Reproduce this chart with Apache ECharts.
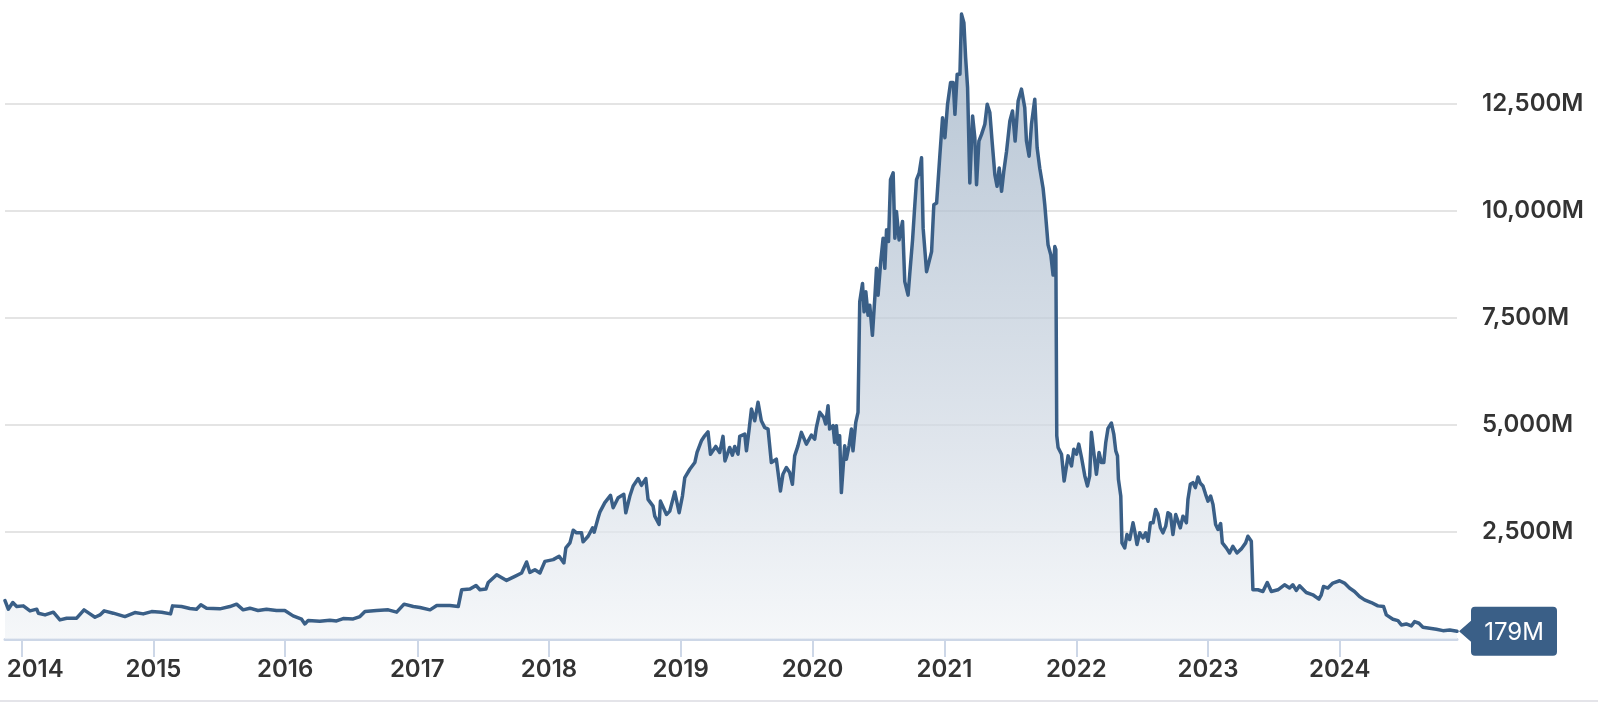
<!DOCTYPE html>
<html>
<head>
<meta charset="utf-8">
<script src="https://cdn.jsdelivr.net/npm/echarts@6/dist/echarts.min.js"></script>
<style>
html,body{margin:0;padding:0;background:#ffffff;}
#chart{width:1598px;height:702px;}
</style>
</head>
<body>
<div id="chart"></div>
<script>
// Dates as decimal years
const dates = [
  2013.873, 2013.898, 2013.932, 2013.962,
  2014.012, 2014.063, 2014.114, 2014.126, 2014.177, 2014.240, 2014.290, 2014.341, 2014.417, 2014.473, 2014.518, 2014.556, 2014.594, 2014.626, 2014.695, 2014.783, 2014.859, 2014.922, 2014.986,
  2015.062, 2015.130, 2015.145, 2015.213, 2015.276, 2015.327, 2015.360, 2015.403, 2015.504, 2015.580, 2015.631, 2015.681, 2015.732, 2015.794, 2015.858, 2015.934, 2015.997,
  2016.060, 2016.124, 2016.149, 2016.174, 2016.262, 2016.338, 2016.389, 2016.439, 2016.515, 2016.566, 2016.604, 2016.692, 2016.780, 2016.844, 2016.900, 2016.970,
  2017.021, 2017.097, 2017.148, 2017.248, 2017.311, 2017.337, 2017.400, 2017.446, 2017.476, 2017.521, 2017.539, 2017.603, 2017.678, 2017.741, 2017.792, 2017.830, 2017.855, 2017.893, 2017.931, 2017.969,
  2018.032, 2018.077, 2018.113, 2018.128, 2018.159, 2018.184, 2018.209, 2018.247, 2018.259, 2018.297, 2018.331, 2018.343, 2018.373, 2018.386, 2018.424, 2018.467, 2018.487, 2018.525, 2018.568, 2018.583, 2018.614, 2018.639, 2018.677, 2018.702, 2018.735, 2018.752, 2018.790, 2018.803, 2018.836, 2018.846, 2018.892, 2018.917, 2018.955, 2018.988,
  2019.013, 2019.031, 2019.069, 2019.107, 2019.124, 2019.157, 2019.182, 2019.207, 2019.226, 2019.266, 2019.296, 2019.321, 2019.336, 2019.372, 2019.392, 2019.410, 2019.435, 2019.448, 2019.486, 2019.499, 2019.518, 2019.537, 2019.562, 2019.587, 2019.612, 2019.637, 2019.663, 2019.688, 2019.726, 2019.757, 2019.776, 2019.802, 2019.827, 2019.848, 2019.865, 2019.890, 2019.916, 2019.954, 2019.992,
  2020.017, 2020.030, 2020.055, 2020.085, 2020.100, 2020.118, 2020.130, 2020.156, 2020.168, 2020.181, 2020.193, 2020.206, 2020.219, 2020.244, 2020.257, 2020.277, 2020.295, 2020.307, 2020.328, 2020.345, 2020.358, 2020.379, 2020.391, 2020.404, 2020.421, 2020.434, 2020.454, 2020.472, 2020.485, 2020.497, 2020.517, 2020.535, 2020.548, 2020.561, 2020.576, 2020.591, 2020.611, 2020.624, 2020.636, 2020.656, 2020.682, 2020.699, 2020.724, 2020.737, 2020.758, 2020.775, 2020.788, 2020.808, 2020.826, 2020.838, 2020.864, 2020.902, 2020.919, 2020.940, 2020.965, 2020.985,
  2021.003, 2021.023, 2021.046, 2021.066, 2021.079, 2021.096, 2021.117, 2021.129, 2021.147, 2021.160, 2021.175, 2021.192, 2021.213, 2021.230, 2021.243, 2021.261, 2021.281, 2021.306, 2021.324, 2021.344, 2021.361, 2021.382, 2021.399, 2021.415, 2021.433, 2021.450, 2021.471, 2021.496, 2021.516, 2021.536, 2021.559, 2021.584, 2021.609, 2021.622, 2021.642, 2021.660, 2021.685, 2021.703, 2021.723, 2021.748, 2021.761, 2021.786, 2021.807, 2021.824, 2021.837, 2021.845, 2021.852, 2021.862, 2021.888, 2021.908, 2021.938, 2021.964, 2021.981,
  2022.002, 2022.019, 2022.040, 2022.065, 2022.085, 2022.102, 2022.115, 2022.133, 2022.153, 2022.173, 2022.191, 2022.209, 2022.224, 2022.241, 2022.267, 2022.285, 2022.300, 2022.313, 2022.320, 2022.338, 2022.347, 2022.368, 2022.385, 2022.406, 2022.431, 2022.444, 2022.461, 2022.482, 2022.507, 2022.527, 2022.545, 2022.563, 2022.583, 2022.603, 2022.620, 2022.639, 2022.658, 2022.679, 2022.696, 2022.715, 2022.734, 2022.755, 2022.772, 2022.790, 2022.810, 2022.836, 2022.848, 2022.866, 2022.886, 2022.904, 2022.924, 2022.942, 2022.962, 2022.982,
  2023.000, 2023.020, 2023.038, 2023.058, 2023.076, 2023.096, 2023.109, 2023.139, 2023.164, 2023.189, 2023.220, 2023.253, 2023.286, 2023.303, 2023.329, 2023.341, 2023.379, 2023.417, 2023.450, 2023.481, 2023.531, 2023.581, 2023.619, 2023.644, 2023.670, 2023.695, 2023.746, 2023.796, 2023.842, 2023.860, 2023.877, 2023.910, 2023.948, 2023.999,
  2024.036, 2024.074, 2024.112, 2024.150, 2024.188, 2024.239, 2024.289, 2024.332, 2024.353, 2024.403, 2024.441, 2024.467, 2024.504, 2024.542, 2024.567, 2024.600, 2024.630, 2024.681, 2024.732, 2024.782, 2024.833, 2024.888
];

// Values in millions
const values = [
  899, 697, 852, 758,
  774, 657, 697, 603, 563, 627, 446, 486, 486, 681, 587, 509, 563, 657, 603, 524, 618, 587, 641,
  627, 587, 774, 758, 711, 697, 798, 720, 704, 758, 814, 681, 720, 665, 697, 665, 665,
  540, 462, 352, 430, 415, 439, 423, 477, 469, 524, 641, 665, 681, 627, 814, 758,
  735, 681, 782, 782, 758, 1150, 1166, 1251, 1150, 1166, 1321, 1502, 1368, 1462, 1542, 1800, 1556, 1619, 1542, 1814,
  1854, 1932, 1777, 2129, 2246, 2542, 2481, 2481, 2270, 2401, 2598, 2495, 2833, 2964, 3185, 3356, 3067, 3302, 3380, 2950, 3340, 3575, 3748, 3591, 3748, 3262, 3105, 2870, 2676, 3222, 2910, 2988, 3434, 2950,
  3340, 3772, 3966, 4123, 4358, 4631, 4748, 4842, 4318, 4499, 4358, 4734, 4161, 4476, 4295, 4499, 4318, 4734, 4788, 4396, 4866, 5375, 5100, 5532, 5100, 4945, 4905, 4123, 4201, 3457, 3849, 4006, 3889, 3614, 4279, 4513, 4828, 4553, 4764,
  4670, 4945, 5297, 5180, 5023, 5452, 4905, 4983, 4593, 4983, 4553, 4748, 3420, 4513, 4201, 4513, 4905, 4396, 5062, 5297, 7879, 8308, 7644, 8113, 7565, 7800, 7095, 7956, 8660, 8034, 8816, 9365, 8660, 9559, 9287, 10733, 10890, 9365, 9991, 9325, 9757, 8348, 8034, 8543, 9325, 10140, 10733, 10890, 11242, 9599, 8583, 9052, 10146, 10186, 11320, 12181,
  11712, 12494, 13002, 13002, 12259, 13197, 13197, 14600, 14400, 13589, 12885, 10655, 12220, 11712, 10616, 11634, 11790, 12025, 12494, 12299, 11634, 10851, 10577, 11007, 10459, 10929, 11398, 12103, 12338, 11634, 12573, 12847, 12416, 11634, 11281, 12025, 12612, 11477, 11000, 10538, 10146, 9209, 8973, 8504, 9169, 9100, 4748, 4476, 4318, 3692, 4279, 4044, 4436,
  4318, 4553, 4241, 3810, 3575, 3810, 4828, 4358, 3849, 4358, 4123, 4123, 4593, 4921, 5046, 4788, 4396, 4279, 3732, 3340, 2246, 2129, 2441, 2324, 2715, 2518, 2206, 2481, 2363, 2481, 2284, 2715, 2715, 3028, 2910, 2598, 2481, 2636, 2950, 2910, 2441, 2910, 2753, 2598, 2870, 2715, 3262, 3614, 3654, 3537, 3786, 3638, 3575, 3380,
  3222, 3340, 3145, 2676, 2558, 2699, 2246, 2129, 2011, 2166, 2011, 2105, 2246, 2401, 2284, 1150, 1150, 1110, 1321, 1110, 1150, 1267, 1190, 1267, 1134, 1244, 1087, 1033, 932, 1033, 1228, 1190, 1307, 1361,
  1307, 1190, 1110, 993, 915, 852, 774, 758, 563, 462, 430, 329, 352, 305, 406, 368, 275, 251, 228, 195, 211, 179
];

const yearTicks = [2014, 2015, 2016, 2017, 2018, 2019, 2020, 2021, 2022, 2023, 2024];
const yMin = 0, yMax = 15000, yStep = 2500;

function yearToTime(y) {
  const Y = Math.floor(y);
  const a = Date.UTC(Y, 0, 1), b = Date.UTC(Y + 1, 0, 1);
  return a + (y - Y) * (b - a);
}

const seriesData = dates.map((d, i) => [yearToTime(d), values[i]]);
const tickTimes = yearTicks.map(y => Date.UTC(y, 0, 1));
const last = seriesData[seriesData.length - 1];

const FONT = 'Inter, "Noto Sans", "DejaVu Sans", sans-serif';
const LINE = '#3a5f87';

const chart = echarts.init(document.getElementById('chart'), null, {renderer: 'canvas'});
chart.setOption({
  animation: false,
  backgroundColor: '#ffffff',
  grid: {left: 5, right: 141, top: -3, bottom: 63, containLabel: false, outerBoundsMode: 'none'},
  xAxis: {
    type: 'value',
    min: seriesData[0][0],
    max: last[0],
    axisLine: {show: true, onZero: false, lineStyle: {color: '#cdd7e7', width: 3}},
    axisTick: {show: true, length: 18, customValues: tickTimes, lineStyle: {color: '#cdd7e7', width: 2}},
    axisLabel: {
      customValues: tickTimes,
      margin: 19,
      formatter: function (v) {
        const y = new Date(v).getUTCFullYear();
        return (y === yearTicks[0] ? '{f|' : '{n|') + y + '}';
      },
      rich: {
        f: {fontFamily: FONT, fontSize: 24, fontWeight: 600, color: '#333333', padding: [0, 0, 0, 27]},
        n: {fontFamily: FONT, fontSize: 24, fontWeight: 600, color: '#333333'}
      }
    },
    splitLine: {show: false}
  },
  yAxis: {
    type: 'value',
    position: 'right',
    min: yMin, max: yMax, interval: yStep,
    axisLine: {show: false},
    axisTick: {show: false},
    axisLabel: {
      margin: 25,
      showMinLabel: false,
      showMaxLabel: false,
      color: '#333333',
      fontFamily: FONT,
      fontSize: 24,
      fontWeight: 600,
      formatter: v => v.toLocaleString('en-US') + 'M'
    },
    splitLine: {show: true, showMinLine: false, showMaxLine: false, lineStyle: {color: '#e4e4e4', width: 2}}
  },
  series: [{
    type: 'line',
    data: seriesData,
    showSymbol: false,
    symbol: 'none',
    clip: false,
    lineStyle: {color: LINE, width: 3.5, join: 'round', cap: 'round'},
    areaStyle: {
      color: new echarts.graphic.LinearGradient(0, 0, 0, 1, [
        {offset: 0, color: '#95aac0'},
        {offset: 0.7, color: '#d3dbe5'},
        {offset: 1, color: '#f1f4f7'}
      ])
    },
    markPoint: {
      symbol: 'path://M12,4 Q12,0 16,0 L94,0 Q98,0 98,4 L98,45 Q98,49 94,49 L16,49 Q12,49 12,45 L12,35 L0,24.5 L12,14 Z',
      symbolSize: [98, 49],
      symbolOffset: [51, 0],
      itemStyle: {color: LINE},
      label: {
        show: true,
        position: 'inside',
        offset: [6, 1],
        color: '#ffffff',
        fontFamily: FONT,
        fontSize: 24,
        fontWeight: 400,
        formatter: p => Math.round(p.value) + 'M'
      },
      data: [{coord: last, value: last[1]}]
    }
  }],
  graphic: [{
    type: 'rect',
    left: 0, top: 700,
    shape: {width: 1598, height: 2},
    style: {fill: '#e4e4e9'},
    silent: true
  }]
});
</script>
</body>
</html>
